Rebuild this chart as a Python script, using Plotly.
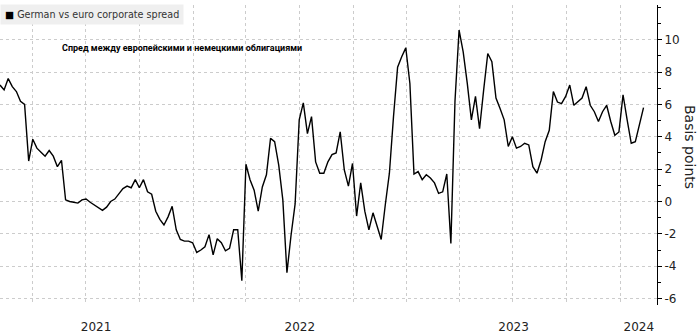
import pandas as pd
import plotly.graph_objects as go

# Weekly observations starting 2021-02-05
start_date = "2021-02-05"
spread_bp = [
    7.2, 6.9, 7.6, 7.1, 6.8, 6.2, 6.0, 2.5, 3.85, 3.3,
    3.05, 2.8, 3.15, 2.8, 2.15, 2.55, 0.1, 0.0, -0.05, -0.1,
    0.1, 0.15, -0.05, -0.2, -0.35, -0.55, -0.35, 0.0, 0.15, 0.5,
    0.8, 0.95, 0.85, 1.35, 0.85, 1.35, 0.6, 0.45, -0.6, -1.1,
    -1.45, -0.95, -0.3, -1.75, -2.35, -2.45, -2.45, -2.55, -3.15, -3.0,
    -2.8, -2.05, -3.3, -2.3, -2.55, -3.05, -2.9, -1.75, -1.75, -4.9,
    2.3, 1.35, 0.7, -0.6, 0.9, 1.65, 3.9, 3.7, 2.25, 0.1,
    -4.4, -2.1, -0.15, 5.05, 6.1, 4.2, 5.25, 2.45, 1.75, 1.75,
    2.45, 2.9, 3.0, 4.3, 1.95, 0.95, 2.35, -0.9, 1.15, -0.6,
    -1.75, -0.7, -1.55, -2.35, -0.2, 1.75, 5.25, 8.3, 8.95, 9.5,
    7.3, 1.7, 1.85, 1.35, 1.65, 1.45, 1.15, 0.5, 0.6, 1.7,
    -2.6, 6.2, 10.6, 9.25, 7.3, 5.05, 6.5, 4.5, 6.9, 9.15,
    8.65, 6.4, 5.75, 5.05, 3.4, 4.0, 3.3, 3.4, 3.6, 3.5,
    2.15, 1.75, 2.55, 3.7, 4.4, 6.8, 6.15, 6.05, 6.5, 7.2,
    5.95, 6.15, 6.4, 7.1, 5.95, 5.55, 4.95, 5.55, 5.95, 4.95,
    4.1, 4.3, 6.6, 5.05, 3.6, 3.7, 4.8, 5.8,
]
dates = pd.date_range(start_date, periods=len(spread_bp), freq="7D")

x_range = ["2021-02-05", "2024-03-03"]
year_tick_dates = ["2021-07-19", "2022-07-02", "2023-07-02", "2024-02-01"]
year_tick_text = ["2021", "2022", "2023", "2024"]
y_tick_vals = [-6, -4, -2, 0, 2, 4, 6, 8, 10]
y_tick_text = ["-6", "-4", "-2", "0", "2", "4", "6", "8", "10"]

legend_text = "German vs euro corporate spread"
subtitle_text = "Спред между европейскими и немецкими облигациями"
y_title = "Basis points"

fig = go.Figure()
fig.add_trace(go.Scatter(
    x=dates, y=spread_bp, mode="lines",
    line=dict(color="#000000", width=1.4),
    showlegend=False, hoverinfo="skip", xaxis="x", yaxis="y",
))
# invisible copy to carry the year-label axis
fig.add_trace(go.Scatter(
    x=dates, y=spread_bp, mode="lines",
    line=dict(color="rgba(0,0,0,0)", width=0),
    showlegend=False, hoverinfo="skip", xaxis="x2", yaxis="y",
))

grid_col = "#cccccc"
font_main = "DejaVu Sans"

fig.update_layout(
    width=700, height=335,
    margin=dict(l=0, r=43, t=5, b=30),
    paper_bgcolor="white", plot_bgcolor="white",
    showlegend=False,
    xaxis=dict(
        type="date", range=x_range,
        tick0="2021-01-01", dtick="M3",
        showticklabels=False, ticks="",
        showgrid=True, griddash="dot", gridcolor=grid_col, gridwidth=1,
        zeroline=False, showline=False, fixedrange=True,
    ),
    xaxis2=dict(
        type="date", range=x_range, overlaying="x", anchor="y", side="bottom",
        tickmode="array", tickvals=year_tick_dates, ticktext=year_tick_text,
        showgrid=False, zeroline=False, showline=False,
        ticks="outside", ticklen=11, tickcolor="rgba(0,0,0,0)",
        tickfont=dict(family=font_main, size=12, color="#222222"),
        fixedrange=True,
    ),
    yaxis=dict(
        side="right",
        range=[-6.4, 12.15],
        tickmode="array", tickvals=y_tick_vals, ticktext=y_tick_text,
        showgrid=True, griddash="dot", gridcolor=grid_col, gridwidth=1,
        zeroline=False,
        showline=True, linecolor="#000000", linewidth=1,
        ticks="outside", ticklen=4, tickcolor="#000000", tickwidth=1,
        minor=dict(dtick=1, tick0=0, ticks="outside", ticklen=3,
                   tickcolor="#000000", showgrid=False),
        tickfont=dict(family=font_main, size=12, color="#222222"),
        fixedrange=True,
    ),
)

fig.add_annotation(
    xref="paper", yref="paper", x=0, y=1.003, xanchor="left", yanchor="top",
    text="<span style='color:#000000'>■</span> " + legend_text,
    showarrow=False, align="left",
    font=dict(family=font_main, size=9.6, color="#333333"),
    bgcolor="#efefef", borderpad=4,
)
fig.add_annotation(
    xref="paper", yref="paper", x=60 / 657, y=(305 - 48) / 300,
    xanchor="left", yanchor="middle",
    text="<b>" + subtitle_text + "</b>",
    showarrow=False,
    font=dict(family="Roboto", size=9, color="#000000"),
)
fig.add_annotation(
    xref="paper", yref="paper", x=690 / 657, y=(305 - 147) / 300,
    xanchor="center", yanchor="middle",
    text=y_title, textangle=90, showarrow=False,
    font=dict(family=font_main, size=14, color="#222222"),
)

fig.write_html(
    "out.html",
    config={"displayModeBar": False, "staticPlot": True},
    post_script="document.body.style.margin='0';",
)
